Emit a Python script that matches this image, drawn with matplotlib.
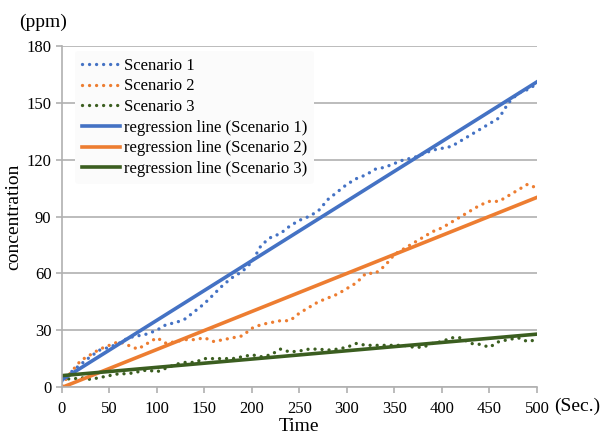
import numpy as np
import matplotlib; matplotlib.use("Agg")
import matplotlib.pyplot as plt

plt.rcParams["font.family"] = ["Liberation Serif", "DejaVu Serif"]

# time axis (s)
time_s = np.arange(0, 501, 10)

scenario1 = [3, 8, 12, 16, 19.5, 21, 23, 26, 27, 28,
             30, 33, 34, 36, 40, 44, 49, 54, 58, 61,
             66, 75, 79, 81, 85, 88, 90, 93, 99, 103,
             107, 110, 112, 115, 116, 118, 120, 121, 123, 125,
             126, 127, 130, 133, 136, 139, 142, 150, 155, 157, 160]
scenario2 = [1, 8, 14, 17, 20, 22, 24, 22, 20, 23,
             26, 23, 24, 25, 25, 26, 24, 25, 26, 27,
             31, 33, 34, 35, 35, 39, 42, 45, 47, 49,
             52, 55, 60, 60, 64, 70, 73, 76, 79, 82,
             84, 87, 90, 93, 96, 98, 98, 101, 104, 107, 105]
scenario3 = [5, 4, 5, 4, 5, 6, 7, 7, 8, 9,
             8, 10, 12, 13, 13, 15, 15, 15, 15, 16,
             17, 16, 17, 20, 18.5, 19, 20, 20, 19.5, 20,
             21, 23, 22, 22, 22, 22, 22, 21, 21, 23,
             24, 26, 26, 23, 22.5, 21, 24, 25, 26, 24, 25]

names = ["Scenario 1", "Scenario 2", "Scenario 3"]
colors = ["#4472C4", "#ED7D31", "#3B5E20"]
series = [scenario1, scenario2, scenario3]

fig = plt.figure(figsize=(6.0, 4.37), dpi=100)
ax = fig.add_axes([0.103, 0.1144, 0.792, 0.7803])

for name, col, ys in zip(names, colors, series):
    ax.plot(time_s, ys, color=col, lw=2.4, linestyle=(0, (0.01, 2.1)),
            dash_capstyle="round", label=name)

for name, col, ys in zip(names, colors, series):
    slope, icpt = np.polyfit(time_s, ys, 1)
    xx = np.array([time_s[0], time_s[-1]])
    ax.plot(xx, icpt + slope * xx, color=col, lw=2.6,
            label=f"regression line ({name})")

ax.set_xlim(0, 500)
ax.set_ylim(0, 180)
ax.set_xticks(np.arange(0, 501, 50))
ax.set_yticks(np.arange(0, 181, 30))
ax.grid(axis="y", color="#b0b0b0", lw=1.2)
ax.set_axisbelow(True)
for s in ["top", "right"]:
    ax.spines[s].set_visible(False)
for s in ["left", "bottom"]:
    ax.spines[s].set_color("#b0b0b0")
    ax.spines[s].set_linewidth(1.2)
ax.tick_params(axis="both", colors="#b0b0b0", labelcolor="black",
               labelsize=12, length=4, width=1.2)
ax.tick_params(axis="x", pad=6)

ax.set_xlabel("Time", fontsize=14, labelpad=1)
ax.set_ylabel("concentration", fontsize=14, labelpad=3)
ax.text(-0.09, 1.055, "(ppm)", transform=ax.transAxes, fontsize=14,
        ha="left")
ax.text(1.035, -0.056, "(Sec.)", transform=ax.transAxes, fontsize=14,
        va="center")

leg = ax.legend(loc="upper left", fontsize=12, frameon=True,
                handlelength=2.3, handletextpad=0.2, labelspacing=0.28,
                borderaxespad=0.3, bbox_to_anchor=(0.018, 1.0))
leg.get_frame().set_facecolor("#fbfbfb")
leg.get_frame().set_edgecolor("none")
leg.get_frame().set_alpha(1)

fig.savefig("out.png", dpi=100)
